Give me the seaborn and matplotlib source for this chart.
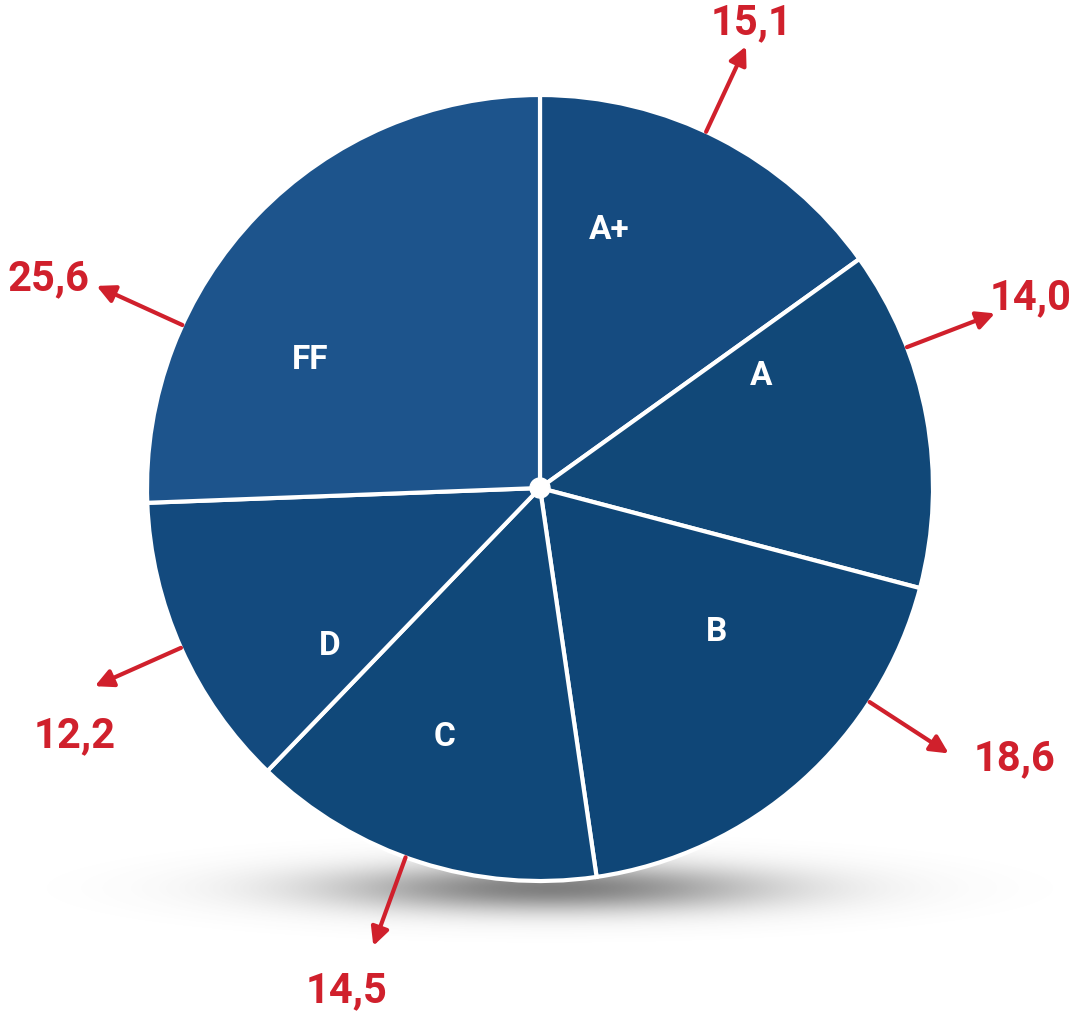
import numpy as np
import seaborn as sns
import matplotlib.pyplot as plt
from matplotlib.patches import Circle

# data
grades = ['A+', 'A', 'B', 'C', 'D', 'FF']
shares = [15.1, 14.0, 18.6, 14.5, 12.2, 25.6]
value_labels = ['15,1', '14,0', '18,6', '14,5', '12,2', '25,6']

# layout (angles in degrees, radii as fraction of pie radius)
arrow_angles = [65, 21, -33, -110, -156, 155.5]
value_pos = [(65.5, 1.30), (21.2, 1.34), (-29.7, 1.39), (-111, 1.37), (-152, 1.34), (157, 1.36)]
grade_pos = [(75, 0.68), (26.8, 0.63), (-39.3, 0.58), (-111, 0.68), (-143, 0.67), (151, 0.67)]
slice_colors = ['#154b80', '#114878', '#0f4677', '#104879', '#134a7e', '#1d548c']
red = '#d0202c'

sns.set_theme(style='white')
plt.rcParams['font.family'] = ['Liberation Sans Narrow', 'Roboto', 'DejaVu Sans']

W, H = 1088, 1011
fig = plt.figure(figsize=(W / 100, H / 100), dpi=100)
ax = fig.add_axes([0, 0, 1, 1])

cx, cy, R = 540, H - 488, 393

# soft gaussian shadow under the pie
sx0, sx1, sy0, sy1 = 0, W, H - 990, H - 800
gx, gy = np.meshgrid(np.linspace(sx0, sx1, 500), np.linspace(sy0, sy1, 150))
alpha = 0.75 * np.exp(-((gx - 550) / 220) ** 2 - ((gy - (H - 888)) / 24) ** 2)
shadow = np.zeros(gx.shape + (4,))
shadow[..., :3] = 0.33
shadow[..., 3] = alpha
ax.imshow(shadow, extent=(sx0, sx1, sy0, sy1), origin='lower',
          interpolation='bilinear', zorder=1)

ax.pie(shares, startangle=90, counterclock=False, colors=slice_colors,
       center=(cx, cy), radius=R, frame=True,
       wedgeprops=dict(edgecolor='white', linewidth=3, zorder=2))
ax.set_xlim(0, W)
ax.set_ylim(0, H)
ax.set_aspect('equal')
ax.axis('off')
ax.add_patch(Circle((cx, cy), 10, color='white', zorder=5))

for g, (a, r) in zip(grades, grade_pos):
    t = np.deg2rad(a)
    ax.text(cx + r * R * np.cos(t), cy + r * R * np.sin(t), g, color='white',
            fontsize=24, fontweight='bold', ha='center', va='center', zorder=6)

for lab, a, (la, lr) in zip(value_labels, arrow_angles, value_pos):
    t = np.deg2rad(a)
    x0, y0 = cx + 1.0 * R * np.cos(t), cy + 1.0 * R * np.sin(t)
    x1, y1 = cx + 1.24 * R * np.cos(t), cy + 1.24 * R * np.sin(t)
    ax.annotate('', xy=(x1, y1), xytext=(x0, y0),
                arrowprops=dict(arrowstyle='-|>,head_length=0.9,head_width=0.45',
                                color=red, lw=3, shrinkA=0, shrinkB=0), zorder=6)
    tl = np.deg2rad(la)
    ax.text(cx + lr * R * np.cos(tl), cy + lr * R * np.sin(tl), lab, color=red,
            fontsize=30, fontweight='bold', ha='center', va='center', zorder=6)

fig.savefig('out.png', dpi=100, facecolor='white')
